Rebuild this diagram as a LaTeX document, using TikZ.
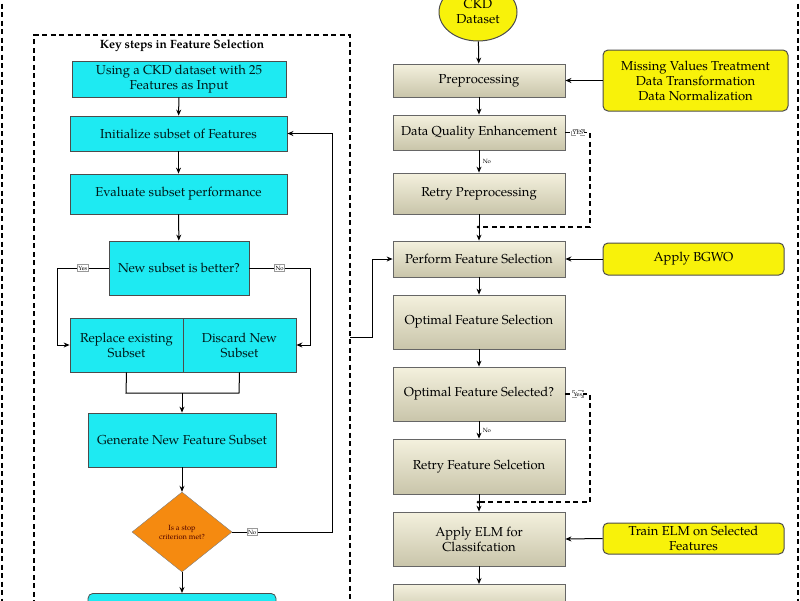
\documentclass[tikz,border=0pt]{standalone}
\usepackage{fontspec}
\setmainfont{TeX Gyre Pagella}
\usetikzlibrary{shapes.geometric,arrows.meta,shadows}
\definecolor{cy}{HTML}{1EEAF2}
\definecolor{ye}{HTML}{F8F20A}
\definecolor{bgt}{HTML}{F4F1DE}
\definecolor{bgb}{HTML}{C9C5AA}
\definecolor{og}{HTML}{F58A10}
\begin{document}
\begin{tikzpicture}[x=1pt,y=-1pt,
  ar/.style={-{Stealth[length=6pt,width=5pt]},line width=1pt},
  ln/.style={line width=1pt},
  dsh/.style={dash pattern=on 5pt off 3.5pt},
  cbox/.style={draw=black!70,fill=cy,align=center,font=\fontsize{13}{15}\selectfont,text=black!80!teal,inner sep=2pt,line width=0.8pt},
  gbox/.style={draw=black!60,top color=bgt,bottom color=bgb,align=center,font=\fontsize{13}{15}\selectfont,drop shadow={shadow xshift=1pt,shadow yshift=-1pt,opacity=.4},inner sep=2pt,line width=0.8pt},
  ybox/.style={draw=black!70,fill=ye,rounded corners=5pt,align=center,font=\fontsize{13}{15}\selectfont,line width=1pt,inner sep=2pt},
  lab/.style={draw=black!40,fill=white,font=\fontsize{6}{7}\selectfont,inner sep=1pt}]
\useasboundingbox (0,0) rectangle (800,600);
\draw[dsh,line width=1.6pt] (2,-5) -- (2,605) (798,-5) -- (798,605);
\draw[dsh,line width=1.4pt] (34,605) -- (34,35) -- (350,35) -- (350,605);
\node[font=\bfseries\fontsize{12}{14}\selectfont] (title) at (182,46) {Key steps in Feature Selection};
% left boxes
\node[cbox,minimum width=214,minimum height=36] (b1) at (179,79) {Using a CKD dataset with 25\\Features as Input};
\node[cbox,minimum width=217,minimum height=35] (b2) at (178.5,133.5) {Initialize subset of Features};
\node[cbox,minimum width=217,minimum height=40] (b3) at (178.5,194) {Evaluate subset performance};
\node[cbox,minimum width=140,minimum height=54] (b4) at (179,268) {New subset is better?};
\node[cbox,minimum width=113,minimum height=54] (b5a) at (126.5,345) {Replace existing\\Subset};
\node[cbox,minimum width=113,minimum height=54] (b5b) at (239.5,345) {Discard New\\Subset};
\node[cbox,minimum width=188,minimum height=54] (b6) at (182,440) {Generate New Feature Subset};
\node[diamond,draw=black!50,fill=og,minimum width=100,minimum height=80,inner sep=0pt,align=center,font=\fontsize{7.5}{9}\selectfont,text=black!70!red] (dm) at (182,532) {Is a stop\\criterion met?};
\node[cbox,rounded corners=5pt,minimum width=188,minimum height=30,anchor=north] (b7) at (182,593) {Validate the Optimal Features};
\draw[ar] (b1) -- (b2);
\draw[ar] (b2) -- (b3);
\draw[ar] (b3) -- (b4);
\draw[ar] (b4.west) -- node[lab,pos=0.5]{Yes} (57,268) -- (57,345) -- (b5a.west);
\draw[ar] (b4.east) -- node[lab,pos=0.5]{No} (310,268) -- (310,345) -- (b5b.east);
\coordinate (mg) at (182,393);
\draw[ln] (b5a.south) -- (126,393) -- (239,393) -- (b5b.south);
\draw[ar] (mg) -- (b6.north);
\draw[ar] (b6) -- (dm);
\draw[ar] (dm) -- (b7);
\draw[ar] (dm.east) -- node[lab,pos=0.2]{No} (332,532) -- (332,133.5) -- (b2.east);
% right column
\node[ellipse,draw=black!70,fill=ye,minimum width=78,minimum height=58,align=center,font=\fontsize{13}{15}\selectfont,line width=1pt,inner sep=0pt] (ckd) at (478,12) {CKD\\Dataset};
\node[gbox,minimum width=172,minimum height=33] (r1) at (479,80.5) {Preprocessing};
\node[gbox,minimum width=172,minimum height=35] (r2) at (479,132.5) {Data Quality Enhancement};
\node[gbox,minimum width=172,minimum height=41] (r3) at (479,193.5) {Retry Preprocessing};
\node[gbox,minimum width=172,minimum height=36] (r4) at (479,259) {Perform Feature Selection};
\node[gbox,minimum width=172,minimum height=54] (r5) at (479,322) {Optimal Feature Selection};
\node[gbox,minimum width=172,minimum height=54] (r6) at (479,394) {Optimal Feature Selected?};
\node[gbox,minimum width=172,minimum height=55] (r7) at (479,466.5) {Retry Feature Selcetion};
\node[gbox,minimum width=172,minimum height=54] (r8) at (479,539) {Apply ELM for\\Classifcation};
\node[gbox,minimum width=172,minimum height=30,anchor=north] (r9) at (479,584) {};
\node[ybox,minimum width=185,minimum height=61] (y1) at (695.5,80.5) {Missing Values Treatment\\Data Transformation\\Data Normalization};
\node[ybox,minimum width=181,minimum height=32] (y2) at (693.5,259) {Apply BGWO};
\node[ybox,minimum width=181,minimum height=31] (y3) at (693.5,538.5) {Train ELM on Selected\\Features};
\draw[ar] (ckd) -- (r1);
\draw[ar] (r1) -- (r2);
\draw[ar] (r2) -- node[right,font=\fontsize{6}{7}\selectfont]{No} (r3);
\draw[ar] (r3) -- (r4);
\draw[ar] (r4) -- (r5);
\draw[ar] (r5) -- (r6);
\draw[ar] (r6) -- node[right,font=\fontsize{6}{7}\selectfont]{No} (r7);
\draw[ar] (r7) -- (r8);
\draw[ar] (r8) -- (r9);
\draw[ar] (y1.west) -- (r1.east);
\draw[ar] (y2.west) -- (r4.east);
\draw[ar] (y3.west) -- (r8.east);
\coordinate (j1) at (478,227);
\coordinate (j2) at (478,502);
\draw[line width=1.3pt,dsh] (r2.east) -- node[lab,pos=0.5]{YES} (590,132.5) -- (590,227) -- (j1);
\fill (j1) circle (1.5pt);
\draw[line width=1.3pt,dsh] (r6.east) -- node[lab,pos=0.5]{Yes} (590,394) -- (590,502) -- (j2);
\fill (j2) circle (1.5pt);
\coordinate (c1) at (350,337);
\draw[ar] (c1) -- (372,337) -- (372,259) -- (r4.west);
\end{tikzpicture}
\end{document}
